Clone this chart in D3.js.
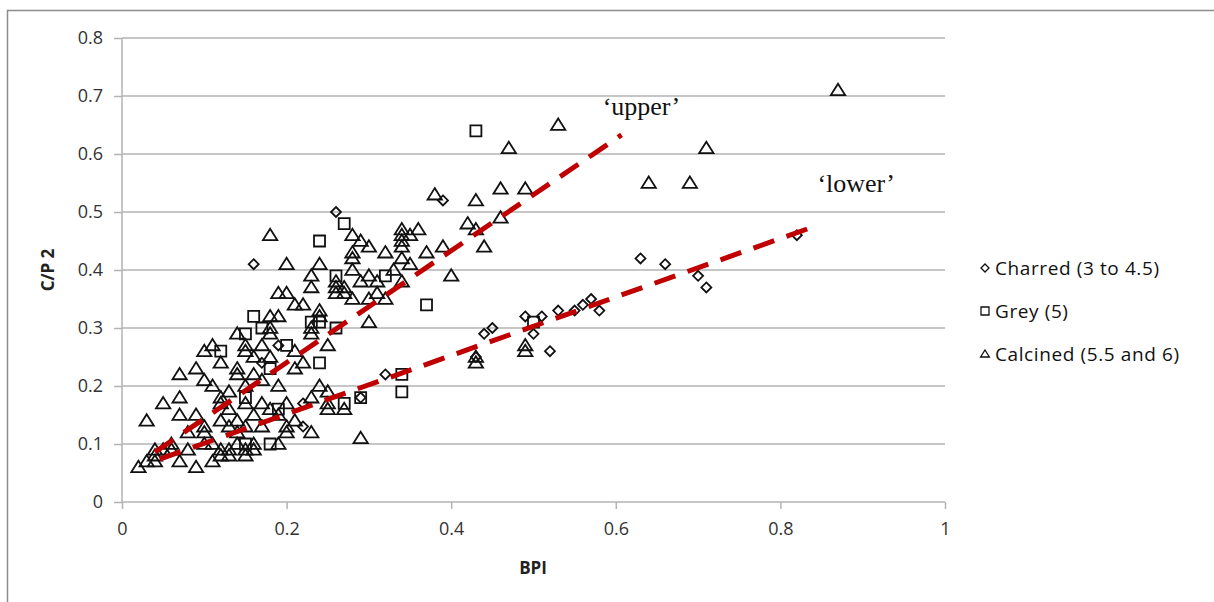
<!DOCTYPE html>
<html>
<head>
<meta charset="utf-8">
<script src="https://cdn.jsdelivr.net/npm/d3@7"></script>
<style>
  body { margin: 0; background: #fff; }
  text { font-family: "Open Sans", "Liberation Sans", sans-serif; }
</style>
</head>
<body>
<svg id="chart" width="1214" height="602"></svg>
<script>
// charred points [BPI, C/P2]
var charred = [
  [0.16,0.41],[0.19,0.27],[0.17,0.24],[0.22,0.17],[0.22,0.13],[0.26,0.50],[0.29,0.18],
  [0.32,0.22],[0.39,0.52],[0.43,0.25],[0.44,0.29],[0.45,0.30],[0.49,0.32],[0.50,0.29],
  [0.51,0.32],[0.52,0.26],[0.53,0.33],[0.55,0.33],[0.56,0.34],[0.57,0.35],[0.58,0.33],
  [0.63,0.42],[0.66,0.41],[0.70,0.39],[0.71,0.37],[0.82,0.46]
]
var grey = [
  [0.12,0.26],[0.15,0.29],[0.15,0.18],[0.15,0.10],[0.16,0.32],[0.17,0.30],[0.18,0.23],
  [0.18,0.10],[0.19,0.16],[0.20,0.27],[0.23,0.31],[0.24,0.31],[0.24,0.24],[0.24,0.45],
  [0.26,0.39],[0.26,0.30],[0.27,0.48],[0.27,0.17],[0.29,0.18],[0.32,0.39],[0.34,0.22],
  [0.34,0.19],[0.37,0.34],[0.43,0.64],[0.50,0.31]
]
var calcined = [
  [0.02,0.06],[0.03,0.07],[0.03,0.14],[0.04,0.08],[0.04,0.09],[0.04,0.07],[0.05,0.09],
  [0.05,0.17],[0.06,0.09],[0.06,0.10],[0.07,0.07],[0.07,0.15],[0.07,0.18],[0.07,0.22],
  [0.08,0.09],[0.08,0.12],[0.09,0.06],[0.09,0.15],[0.09,0.23],[0.10,0.10],[0.10,0.12],
  [0.10,0.13],[0.10,0.21],[0.10,0.26],[0.11,0.07],[0.11,0.10],[0.11,0.20],[0.11,0.27],
  [0.12,0.08],[0.12,0.09],[0.12,0.14],[0.12,0.17],[0.12,0.18],[0.12,0.24],[0.13,0.08],
  [0.13,0.09],[0.13,0.13],[0.13,0.16],[0.13,0.19],[0.14,0.10],[0.14,0.12],[0.14,0.14],
  [0.14,0.22],[0.14,0.23],[0.14,0.29],[0.15,0.08],[0.15,0.09],[0.15,0.13],[0.15,0.17],
  [0.15,0.20],[0.15,0.26],[0.15,0.27],[0.16,0.09],[0.16,0.10],[0.16,0.15],[0.16,0.22],
  [0.16,0.25],[0.17,0.13],[0.17,0.17],[0.17,0.21],[0.17,0.27],[0.18,0.16],[0.18,0.25],
  [0.18,0.29],[0.18,0.30],[0.18,0.32],[0.18,0.46],[0.19,0.10],[0.19,0.15],[0.19,0.20],
  [0.19,0.32],[0.19,0.36],[0.20,0.12],[0.20,0.13],[0.20,0.17],[0.20,0.36],[0.20,0.41],
  [0.21,0.14],[0.21,0.23],[0.21,0.26],[0.21,0.34],[0.22,0.24],[0.22,0.34],[0.23,0.12],
  [0.23,0.18],[0.23,0.29],[0.23,0.30],[0.23,0.37],[0.23,0.39],[0.24,0.20],[0.24,0.32],
  [0.24,0.33],[0.24,0.41],[0.25,0.16],[0.25,0.17],[0.25,0.19],[0.25,0.27],[0.26,0.36],
  [0.26,0.37],[0.26,0.38],[0.27,0.16],[0.27,0.36],[0.27,0.37],[0.28,0.35],[0.28,0.40],
  [0.28,0.42],[0.28,0.43],[0.28,0.46],[0.29,0.11],[0.29,0.38],[0.29,0.45],[0.30,0.31],
  [0.30,0.35],[0.30,0.39],[0.30,0.44],[0.31,0.36],[0.31,0.38],[0.32,0.35],[0.32,0.43],
  [0.33,0.40],[0.34,0.38],[0.34,0.42],[0.34,0.44],[0.34,0.45],[0.34,0.46],[0.34,0.47],
  [0.35,0.41],[0.35,0.46],[0.36,0.47],[0.37,0.43],[0.38,0.53],[0.39,0.44],[0.40,0.39],
  [0.42,0.48],[0.43,0.24],[0.43,0.25],[0.43,0.47],[0.43,0.52],[0.44,0.44],[0.46,0.49],
  [0.46,0.54],[0.47,0.61],[0.49,0.26],[0.49,0.27],[0.49,0.54],[0.53,0.65],[0.64,0.55],
  [0.69,0.55],[0.71,0.61],[0.87,0.71]
]
var trendLines = [
  {name: "\u2018upper\u2019", pts: [[0.04,0.086],[0.607,0.633]], label: [0.584,0.667]},
  {name: "\u2018lower\u2019", pts: [[0.046,0.074],[0.843,0.476]], label: [0.845,0.534]}
]
var xTicks = [0, 0.2, 0.4, 0.6, 0.8, 1]
var yTicks = [0, 0.1, 0.2, 0.3, 0.4, 0.5, 0.6, 0.7, 0.8]
var legendItems = [
  {label: "Charred (3 to 4.5)", shape: "diamond"},
  {label: "Grey (5)", shape: "square"},
  {label: "Calcined (5.5 and 6)", shape: "triangle"}
]

var svg = d3.select("#chart")
var x = d3.scaleLinear().domain([0, 1]).range([122, 945])
var y = d3.scaleLinear().domain([0, 0.8]).range([502, 38])
var gridCol = "#b3b3b3"

// outer frame (only left and top edges are visible)
svg.append("path")
  .attr("d", "M7.5,602 L7.5,10.5 L1214,10.5")
  .attr("fill", "none").attr("stroke", "#8c8c8c").attr("stroke-width", 1.5)

// gridlines
svg.append("g").selectAll("line").data(yTicks.slice(1)).enter().append("line")
  .attr("x1", x(0)).attr("x2", x(1))
  .attr("y1", d => y(d)).attr("y2", d => y(d))
  .attr("stroke", gridCol).attr("stroke-width", 1.5)

var yAxis = d3.axisLeft(y).tickValues(yTicks).tickSize(8).tickPadding(11).tickFormat(d => d)
var gy = svg.append("g").attr("transform", "translate(" + x(0) + ",0)").call(yAxis)
var xAxis = d3.axisBottom(x).tickValues(xTicks).tickSize(7).tickPadding(13).tickFormat(d => d)
var gx = svg.append("g").attr("transform", "translate(0," + y(0) + ")").call(xAxis)
;[gx, gy].forEach(function(g){
  g.select(".domain").attr("stroke", gridCol).attr("stroke-width", 1.5)
  g.selectAll(".tick line").attr("stroke", gridCol).attr("stroke-width", 1.5)
  g.selectAll(".tick text").attr("fill", "#333").style("font-size", "18px")
})
gy.select(".domain").attr("d", "M0," + y(0.8) + "V" + y(0))
gx.select(".domain").attr("d", "M" + x(0) + ",0H" + x(1))

// axis titles
svg.append("text").attr("x", 533).attr("y", 574).attr("text-anchor", "middle")
  .style("font-size", "17px").style("font-weight", "bold").attr("fill", "#222").text("BPI")
svg.append("text").attr("transform", "translate(54,270) rotate(-90)").attr("text-anchor", "middle")
  .style("font-size", "17px").style("font-weight", "bold").attr("fill", "#222").text("C/P 2")

// marker shapes
function shapePath(shape, s) {
  if (shape == "diamond") return "M0," + (-s) + "L" + s + ",0L0," + s + "L" + (-s) + ",0Z"
  if (shape == "square") return "M" + (-s) + "," + (-s) + "h" + 2*s + "v" + 2*s + "h" + (-2*s) + "Z"
  return "M0," + (-s) + "L" + (s*1.1) + "," + (s*0.75) + "L" + (-s*1.1) + "," + (s*0.75) + "Z"
}

function drawSeries(data, shape, s) {
  svg.append("g").selectAll("path").data(data).enter().append("path")
    .attr("transform", d => "translate(" + x(d[0]) + "," + y(d[1]) + ")")
    .attr("d", shapePath(shape, s))
    .attr("fill", "none").attr("stroke", "#111").attr("stroke-width", 1.8)
}
drawSeries(calcined, "triangle", 6.5)
drawSeries(grey, "square", 5.5)
drawSeries(charred, "diamond", 5)

// dashed trend lines
var line = d3.line().x(d => x(d[0])).y(d => y(d[1]))
trendLines.forEach(function(t){
  svg.append("path").attr("d", line(t.pts))
    .attr("fill", "none").attr("stroke", "#c00000").attr("stroke-width", 5)
    .attr("stroke-dasharray", "22,13")
  svg.append("text").attr("x", x(t.label[0])).attr("y", y(t.label[1]))
    .style("font-family", "'Liberation Serif', 'DejaVu Serif', serif").style("font-size", "26px")
    .attr("fill", "#111").text(t.name)
})

// legend
var lg = svg.append("g").selectAll("g").data(legendItems).enter().append("g")
  .attr("transform", (d, i) => "translate(985," + (268 + i*43) + ")")
lg.append("path").attr("d", d => shapePath(d.shape, 4))
  .attr("fill", "none").attr("stroke", "#111").attr("stroke-width", 1.3)
lg.append("text").attr("x", 10).attr("dy", "0.35em")
  .style("font-size", "19px").style("letter-spacing", "0.6px").attr("fill", "#111").text(d => d.label)
</script>
</body>
</html>
